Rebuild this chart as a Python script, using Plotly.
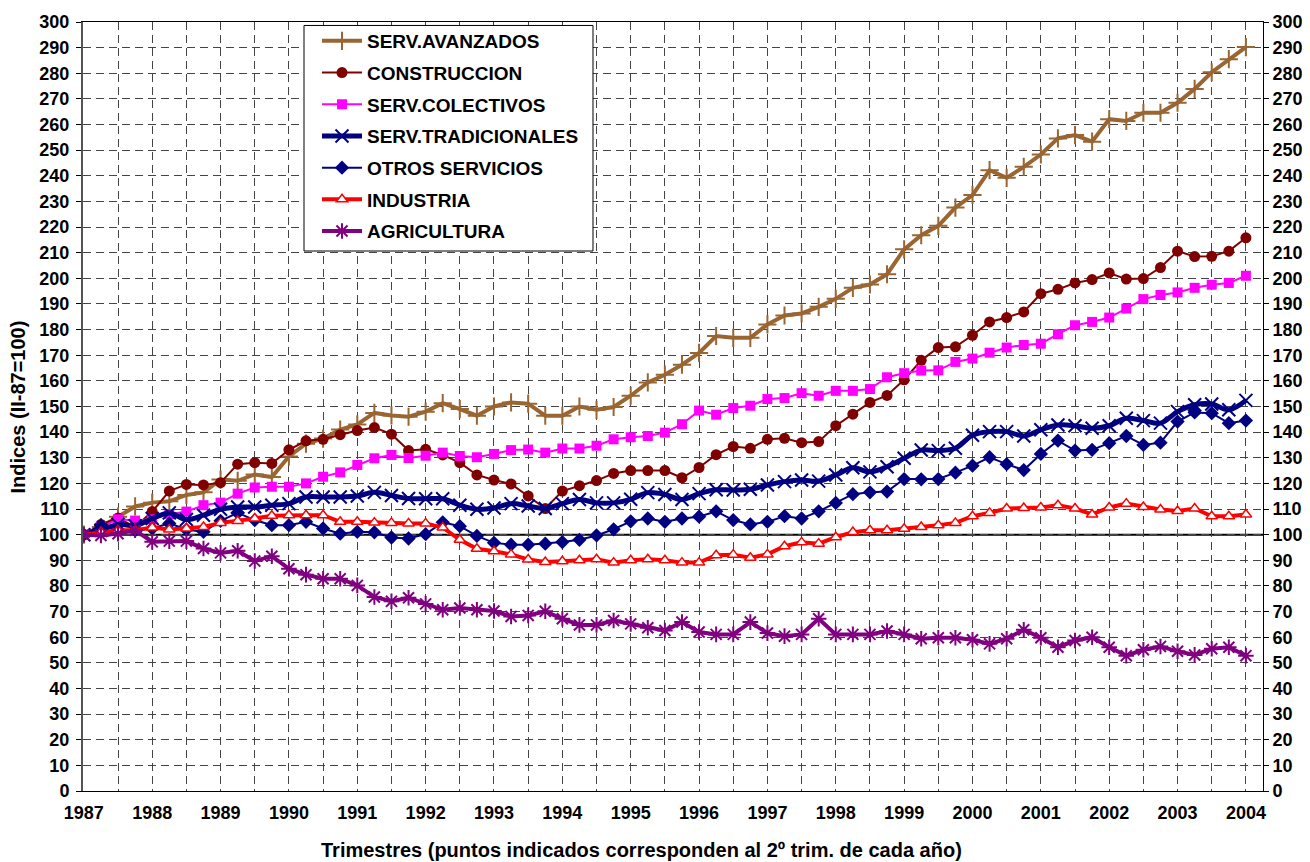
import plotly.graph_objects as go

# trimestres II-87 ... II-04 (69 puntos), etiqueta en el 2º trimestre de cada año
years = [str(y) for y in range(1987, 2005)]
quarters = list(range(69))

serv_avanzados = [100, 103, 107, 111, 112.5, 113, 115.5, 116.5, 121.5, 121, 123.5, 122.5,
                  130.5, 135.5, 137.5, 141, 143, 147.5, 146.5, 146, 148, 151.3, 149, 146.4,
                  150, 151.6, 151.1, 146.4, 146.4, 150, 148.7, 149.8, 154.2, 159.4, 162.4, 166.3,
                  170.9, 177.5, 176.8, 176.8, 182, 185.5, 186.3, 188.9, 192, 196.3, 197.6, 201.6,
                  211.3, 216.8, 220.5, 227.6, 232.5, 242.2, 239.2, 243.5, 248.3, 254.6, 255.9, 253.3,
                  262.1, 261.4, 264.6, 264.6, 268.5, 273.9, 280.4, 285.5, 290.2]
construccion = [100, 104, 106.5, 103, 109, 117, 119.6, 119.4, 120.3, 127.5, 128.1, 127.8,
                133.1, 136.6, 137.2, 139, 140.6, 141.8, 139.2, 132.8, 133.3, 131.1, 128.1, 123.3,
                121.3, 119.8, 115.1, 110.2, 117, 119.1, 121.1, 123.9, 125, 125, 125, 122.2,
                126.2, 131.2, 134.4, 133.7, 137.2, 137.6, 135.9, 136.3, 142.5, 147, 151.6, 154.3,
                160.4, 168, 173, 173.3, 177.8, 183, 184.7, 186.9, 194, 195.7, 198.2, 199.5,
                202.1, 199.7, 199.9, 204.2, 210.6, 208.5, 208.6, 210.6, 215.8]
serv_colectivos = [100, 103, 106, 105.5, 106, 108, 109, 111.5, 112.5, 116, 118.4, 118.7,
                   118.7, 120, 122.6, 124.3, 127.2, 129.8, 131.1, 129.9, 130.8, 132, 130.7, 130.2,
                   131.5, 133, 133.2, 132, 133.6, 133.6, 134.7, 137.2, 138, 138.5, 139.8, 143.1,
                   148.4, 146.8, 149.4, 150.3, 152.9, 153.3, 155.2, 154.2, 156.1, 156.1, 156.8, 161.4,
                   163, 164, 164.1, 167.4, 168.7, 171, 173, 174, 174.5, 178.2, 181.7, 183,
                   184.7, 188.2, 191.9, 193.5, 194.5, 196.3, 197.5, 198.2, 201]
serv_tradicionales = [100, 101.7, 104, 103.5, 106.3, 108.5, 105.9, 107.6, 109.9, 110.8, 110.8, 111.5,
                      112.1, 114.7, 114.7, 114.7, 115.1, 116.5, 115.3, 114.1, 114, 114, 111.5, 109.9,
                      110.4, 112.1, 111.2, 110.2, 112.1, 113.7, 112.4, 112.4, 113.8, 116.4, 115.7, 113.7,
                      116, 117.5, 117.4, 117.7, 119.4, 120.7, 121.3, 120.9, 123.3, 126.1, 124.5, 126.5,
                      129.8, 133, 132.8, 133.7, 138.8, 140.2, 140.2, 138.5, 140.9, 142.8, 142.5, 141.5,
                      142.5, 145.4, 144.5, 143.5, 148, 150.7, 151, 148.7, 152.4]
otros_servicios = [100, 103.6, 101.9, 101.7, 102.4, 104.4, 102, 101.1, 105.4, 108.5, 105.7, 103.7,
                   103.7, 105, 102.4, 100.4, 101.1, 100.9, 98.9, 98.5, 100.2, 104.8, 103.3, 99.5,
                   96.8, 96.1, 96.1, 96.5, 97.1, 98, 99.7, 102.1, 105.2, 106.3, 105, 106.3,
                   107, 109.1, 105.7, 104, 105, 107.2, 106.3, 109.1, 112.4, 115.8, 116.5, 116.8,
                   121.7, 121.6, 121.7, 124.2, 126.9, 130.2, 127.5, 125.2, 131.5, 136.7, 132.8, 133.1,
                   135.7, 138.5, 135, 135.9, 144.1, 147.7, 147.4, 143.5, 144.5]
industria = [100, 101, 101.7, 101.7, 102.8, 102, 102.4, 103, 104.6, 105.3, 106.3, 107.4,
             107.6, 107.6, 107.6, 105, 105, 104.7, 104.6, 104.4, 104.4, 102.8, 98, 94.5,
             93.5, 92.3, 90.3, 89.3, 89.6, 90, 90.4, 89.1, 90, 90.4, 90, 89.1,
             89.1, 92, 92.2, 91, 92.3, 95.5, 97, 96.5, 99, 101, 101.7, 101.7,
             102.3, 103, 103.7, 104.6, 107.2, 108.5, 110.2, 110.4, 110.6, 111.5, 110.2, 107.9,
             110.6, 112.1, 110.8, 109.8, 109.2, 110.2, 107.2, 107.2, 107.9]
agricultura = [100, 99.7, 100.4, 101.7, 97.2, 97.5, 97.5, 94.6, 92.9, 93.7, 89.7, 91.6,
               86.7, 84.4, 82.8, 82.8, 80.2, 75.7, 74, 75.4, 73, 70.7, 71.4, 70.7,
               70.2, 68.1, 68.5, 70.1, 67.2, 64.8, 64.8, 66.5, 65.2, 63.7, 62.6, 65.9,
               62, 61.1, 61.1, 65.9, 61.6, 60.4, 61.1, 67.2, 61.1, 61.1, 61.1, 62.4,
               61.1, 59.4, 59.8, 59.8, 59, 57.4, 59.4, 62.9, 59.8, 56.1, 58.7, 60,
               56.1, 52.8, 55.1, 56.4, 54.5, 53.1, 55.5, 56.1, 52.8]

FONT = 'Liberation Sans'

fig = go.Figure()

def add_series(name, values, line, marker, shape='linear'):
    fig.add_trace(go.Scatter(x=quarters, y=values, name=name, legendgroup=name,
                             mode='lines+markers', line=dict(shape=shape, **line),
                             marker=marker))

add_series('SERV.AVANZADOS', serv_avanzados,
           dict(color='#996633', width=4),
           dict(symbol='cross-thin-open', size=13, line=dict(color='#008080', width=2)))
add_series('CONSTRUCCION', construccion,
           dict(color='#800000', width=2),
           dict(symbol='circle', size=11, color='#800000'))
add_series('SERV.COLECTIVOS', serv_colectivos,
           dict(color='#FF00FF', width=2),
           dict(symbol='square', size=10, color='#FF00FF'))
add_series('SERV.TRADICIONALES', serv_tradicionales,
           dict(color='#000080', width=5),
           dict(symbol='x-thin-open', size=13, line=dict(color='#00FFFF', width=2)),
           shape='spline')
add_series('OTROS SERVICIOS', otros_servicios,
           dict(color='#000080', width=2),
           dict(symbol='diamond', size=11, color='#000080'))
add_series('INDUSTRIA', industria,
           dict(color='#FF0000', width=4),
           dict(symbol='triangle-up', size=10, color='white', line=dict(color='#FF0000', width=1.5)))
add_series('AGRICULTURA', agricultura,
           dict(color='#800080', width=4),
           dict(symbol='asterisk-open', size=13, line=dict(color='#800080', width=2)))

# eje derecho (copia del izquierdo)
fig.add_trace(go.Scatter(x=[None], y=[None], yaxis='y2', showlegend=False, hoverinfo='skip'))

fig.add_hline(y=100, line=dict(color='black', width=2), layer='below')

# recuadro de la leyenda (más ancho que el que dibuja plotly)
fig.add_shape(type='rect', xref='paper', yref='paper', x0=0.1873, x1=0.4322, y0=0.7022, y1=0.9955,
              fillcolor='white', line=dict(color='black', width=1), layer='above')

tickvals = list(range(0, 69, 2))
ticktext = [years[i // 4] if i % 4 == 0 else '' for i in tickvals]

tickfont = dict(family=FONT, size=18, color='black', weight='bold')
titlefont = dict(family=FONT, size=20, color='black', weight='bold')
grid = dict(showgrid=True, gridcolor='#444444', gridwidth=1, griddash='8px,5px')
yticks = dict(tickmode='linear', tick0=0, dtick=10, range=[0, 300], automargin=False,
              ticks='outside', ticklen=5, tickcolor='black', tickfont=tickfont)

fig.add_annotation(text='Trimestres (puntos indicados corresponden al 2º trim. de cada año)',
                   xref='paper', yref='paper', x=0.4737, y=-0.0765,
                   xanchor='center', yanchor='middle', showarrow=False, font=titlefont)
fig.add_annotation(text='Indices (II-87=100)', textangle=-90,
                   xref='paper', yref='paper', x=-0.0551, y=0.5,
                   xanchor='center', yanchor='middle', showarrow=False, font=titlefont)

# la página añade 8px de margen al body: la figura se reduce para caber en la ventana
fig.update_layout(
    width=1302, height=854,
    margin=dict(l=75, r=47, t=14, b=71, autoexpand=False),
    plot_bgcolor='white', paper_bgcolor='white',
    font=dict(family=FONT, color='black', weight='bold'),
    xaxis=dict(range=[-0.05, 69], tickmode='array', tickvals=tickvals, ticktext=ticktext,
               showline=True, linecolor='black', linewidth=1, mirror=True, automargin=False,
               ticks='', tickfont=tickfont, ticklabelstandoff=5,
               zeroline=False, **grid),
    yaxis=dict(showline=True, linecolor='#555555', linewidth=2, zeroline=False,
               ticklabelstandoff=3, **yticks, **grid),
    yaxis2=dict(overlaying='y', side='right', showline=True, linecolor='black', linewidth=1,
                showgrid=False, zeroline=False, **yticks),
    showlegend=True,
    legend=dict(x=0.1983, y=1.0, xanchor='left', yanchor='top',
                bgcolor='rgba(0,0,0,0)', borderwidth=0,
                traceorder='grouped', tracegroupgap=4, itemwidth=40,
                font=dict(family=FONT, size=19, color='black', weight='bold')),
)

fig.write_html('out.html')
